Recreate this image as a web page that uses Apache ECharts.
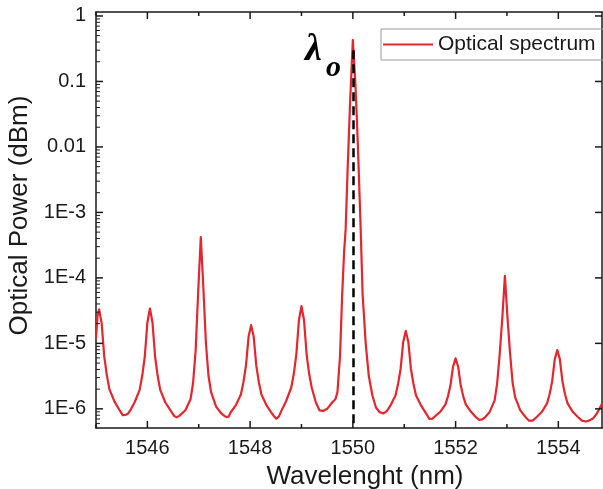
<!DOCTYPE html>
<html><head><meta charset="utf-8">
<script src="https://cdn.jsdelivr.net/npm/echarts@6/dist/echarts.min.js"></script>
<style>html,body{margin:0;padding:0;background:#fff}#c{width:603px;height:489px}</style>
</head><body><div id="c"></div>
<script>
// ---- data ----
const wavelength = [
1545.00,1545.03,1545.06,1545.11,1545.16,1545.21,1545.26,1545.36,1545.46,1545.52,1545.58,1545.62,1545.66,1545.75,1545.85,1545.90,1545.95,
1546.00,1546.05,1546.10,1546.15,1546.20,1546.25,1546.35,1546.45,1546.52,1546.57,1546.62,1546.68,1546.74,1546.84,1546.89,1546.94,1546.99,
1547.04,1547.09,1547.14,1547.19,1547.24,1547.34,1547.44,1547.50,1547.54,1547.58,1547.62,1547.72,1547.82,1547.87,1547.92,1547.97,
1548.02,1548.07,1548.12,1548.17,1548.22,1548.32,1548.42,1548.47,1548.51,1548.56,1548.61,1548.70,1548.80,1548.85,1548.90,1548.95,
1549.00,1549.05,1549.10,1549.15,1549.20,1549.28,1549.35,1549.42,1549.50,1549.60,1549.66,1549.70,1549.75,1549.79,1549.83,1549.86,1549.90,1549.95,
1550.00,1550.05,1550.08,1550.11,1550.15,1550.19,1550.25,1550.31,1550.38,1550.45,1550.52,1550.60,1550.66,1550.73,1550.83,1550.88,1550.93,1550.98,
1551.03,1551.08,1551.13,1551.18,1551.23,1551.33,1551.43,1551.49,1551.55,1551.60,1551.70,1551.80,1551.85,1551.90,1551.95,
1552.00,1552.05,1552.10,1552.15,1552.20,1552.30,1552.40,1552.46,1552.52,1552.57,1552.66,1552.76,1552.81,1552.86,1552.91,1552.96,
1553.01,1553.06,1553.11,1553.16,1553.26,1553.36,1553.43,1553.50,1553.58,1553.68,1553.78,1553.83,1553.88,1553.93,1553.98,
1554.03,1554.08,1554.13,1554.18,1554.28,1554.38,1554.46,1554.53,1554.60,1554.68,1554.75,1554.80,1554.85
];
const power = [
1.2e-5,2.6e-5,3.3e-5,2.04e-5,6.4e-6,3.3e-6,2.0e-6,1.29e-6,9.5e-7,8.0e-7,8.1e-7,8.4e-7,9.3e-7,1.25e-6,1.95e-6,3.2e-6,6.3e-6,
2.07e-5,3.4e-5,2.07e-5,6.3e-6,3.2e-6,1.95e-6,1.25e-6,9.5e-7,7.8e-7,7.4e-7,7.8e-7,8.6e-7,9.5e-7,1.4e-6,2.5e-6,7.9e-6,6.3e-5,
4.2e-4,7.0e-5,1.0e-5,3.2e-6,1.8e-6,1.07e-6,8.5e-7,7.8e-7,7.5e-7,7.6e-7,8.8e-7,1.13e-6,1.66e-6,2.55e-6,4.6e-6,1.26e-5,
1.9e-5,1.26e-5,4.6e-6,2.55e-6,1.66e-6,1.13e-6,8.6e-7,7.6e-7,7.1e-7,7.6e-7,9.4e-7,1.31e-6,2.1e-6,3.4e-6,6.8e-6,2.25e-5,
3.7e-5,2.25e-5,6.8e-6,3.4e-6,2.1e-6,1.25e-6,9.5e-7,9.3e-7,1.0e-6,1.26e-6,1.4e-6,1.8e-6,6.3e-6,5.0e-5,2.5e-4,5.6e-4,5.0e-3,5.6e-2,
0.43,8.9e-2,2.5e-2,5.6e-3,6.3e-4,5.6e-5,1.0e-5,3.2e-6,1.6e-6,1.05e-6,8.9e-7,8.5e-7,9.2e-7,1.12e-6,1.6e-6,2.4e-6,4.1e-6,1.05e-5,
1.55e-5,1.05e-5,4.1e-6,2.4e-6,1.6e-6,1.12e-6,8.4e-7,7.0e-7,7.1e-7,7.7e-7,9.0e-7,1.16e-6,1.54e-6,2.27e-6,4.4e-6,
5.9e-6,4.4e-6,2.27e-6,1.54e-6,1.16e-6,9.0e-7,7.4e-7,6.8e-7,6.9e-7,7.4e-7,8.9e-7,1.35e-6,2.5e-6,7.1e-6,2.5e-5,1.07e-4,
2.5e-5,7.1e-6,2.5e-6,1.5e-6,9.5e-7,7.5e-7,6.6e-7,6.6e-7,7.5e-7,9.0e-7,1.21e-6,1.67e-6,2.63e-6,5.7e-6,7.9e-6,
5.7e-6,2.63e-6,1.67e-6,1.21e-6,9.0e-7,7.5e-7,6.6e-7,6.4e-7,6.6e-7,7.2e-7,8.5e-7,1.0e-6,1.2e-6
];
const seriesName = 'Optical spectrum';
const xTitle = 'Wavelenght (nm)';
const yTitle = 'Optical Power (dBm)';
const xMin = 1545, xMax = 1554.85;
const yMin = 5.1e-7, yMax = 1.15;
const xTickValues = [1545, 1546, 1547, 1548, 1549, 1550, 1551, 1552, 1553, 1554];
const xLabelValues = [1546, 1548, 1550, 1552, 1554];
const yMajorTicks = [1e-6, 1e-5, 1e-4, 1e-3, 0.01, 0.1, 1];
const yDecadeLabels = ['1E-6', '1E-5', '1E-4', '1E-3', '0.01', '0.1', '1'];
const yMinorMantissas = [2, 3, 4, 5, 6, 7, 8, 9];
const centerWavelength = 1550;
const centerMarkerTop = 0.3;
const centerLabel = 'λ';
const centerLabelSub = 'o';

// log-spaced minor tick values (2..9 x 10^n) inside the axis range
const yMinorTicks = [];
for (let e = -7; e <= 0; e++) {
  for (const m of yMinorMantissas) {
    const v = m * Math.pow(10, e);
    if (v >= yMin && v <= yMax) yMinorTicks.push(v);
  }
}

const FONT = 'Liberation Sans';
const INK = '#1a1a1a';
const RED = '#e4262e';

const baseY = { type: 'log', logBase: 10, min: yMin, max: yMax, splitLine: { show: false } };
const baseX = { type: 'value', min: xMin, max: xMax, interval: 1, splitLine: { show: false } };

function tickLine(x1, y1, x2, y2, w) {
  return { type: 'line', shape: { x1, y1, x2, y2 }, style: { stroke: INK, lineWidth: w } };
}

const chart = echarts.init(document.getElementById('c'), null, { renderer: 'canvas' });
chart.setOption({
  backgroundColor: '#fff',
  animation: false,
  grid: { left: 96, right: 1, top: 12, bottom: 61, containLabel: false, outerBoundsMode: 'none' },
  legend: {
    left: 381, top: 29,
    padding: [5, 12, 5, 2],
    itemWidth: 50, itemHeight: 2,
    borderColor: '#9a9a9a', borderWidth: 1,
    textStyle: { fontSize: 21, color: INK, fontFamily: FONT },
    data: [{ name: seriesName, icon: 'rect' }]
  },
  xAxis: [
    Object.assign({}, baseX, {
      position: 'bottom',
      axisLine: { show: true, lineStyle: { color: INK, width: 1.5 } },
      axisTick: { show: false },
      axisLabel: { show: true, customValues: xLabelValues, formatter: v => String(v), fontSize: 20, color: INK, fontFamily: FONT, margin: 10 },
      name: xTitle, nameLocation: 'middle', nameGap: 36,
      nameTextStyle: { fontSize: 26, color: INK, fontFamily: FONT, padding: [0, 0, 0, 32] }
    }),
    Object.assign({}, baseX, {
      position: 'top',
      axisLine: { show: true, lineStyle: { color: INK, width: 1.5 } },
      axisTick: { show: false },
      axisLabel: { show: false }
    })
  ],
  yAxis: [
    Object.assign({}, baseY, {
      position: 'left',
      axisLine: { show: true, lineStyle: { color: INK, width: 1.5 } },
      axisTick: { show: false },
      axisLabel: {
        show: true, fontSize: 20, color: INK, fontFamily: FONT, margin: 10,
        formatter: v => {
          const i = yMajorTicks.findIndex(t => Math.abs(Math.log10(v) - Math.log10(t)) < 1e-6);
          return i >= 0 ? yDecadeLabels[i] : '';
        }
      },
      name: yTitle, nameLocation: 'middle', nameGap: 62, nameRotate: 90,
      nameTextStyle: { fontSize: 26, color: INK, fontFamily: FONT, padding: [0, 0, 0, 9] }
    }),
    Object.assign({}, baseY, {
      position: 'right',
      axisLine: { show: true, lineStyle: { color: INK, width: 1.5 } },
      axisTick: { show: false },
      axisLabel: { show: false }
    })
  ],
  graphic: [
    { type: 'text', left: 305, top: 31, z: 10,
      style: { text: centerLabel, fontSize: 38, fontWeight: 'bold', fontStyle: 'italic', fontFamily: 'Liberation Serif', fill: '#000' } },
    { type: 'text', left: 326, top: 53, z: 10,
      style: { text: centerLabelSub, fontSize: 30, fontWeight: 'bold', fontStyle: 'italic', fontFamily: 'Liberation Serif', fill: '#000' } }
  ],
  series: [
    {
      name: seriesName,
      type: 'line',
      xAxisIndex: 0, yAxisIndex: 0,
      data: wavelength.map((w, i) => [w, power[i]]),
      showSymbol: false, symbol: 'none',
      lineStyle: { color: RED, width: 2.2, join: 'round' },
      itemStyle: { color: RED },
      clip: true, z: 2,
      markLine: {
        silent: true, symbol: 'none', label: { show: false },
        lineStyle: { color: '#000', width: 2.5, type: [9, 5] },
        data: [[{ coord: [centerWavelength, centerMarkerTop] }, { coord: [centerWavelength, yMin] }]]
      }
    },
    {
      // x ticks (bottom & top, inside); labelled ones longer
      name: 'xTicks', type: 'custom', xAxisIndex: 0, yAxisIndex: 0, silent: true, z: 5,
      data: xTickValues.map(v => [v, yMax]),
      renderItem: (params, api) => {
        const v = api.value(0);
        const len = xLabelValues.includes(v) ? 7 : 4;
        const b = api.coord([v, yMin]), t = api.coord([v, yMax]);
        return { type: 'group', children: [tickLine(b[0], b[1], b[0], b[1] - len, 1.5), tickLine(t[0], t[1], t[0], t[1] + len, 1.5)] };
      }
    },
    {
      // y major ticks (left & right, inside)
      name: 'yTicks', type: 'custom', xAxisIndex: 0, yAxisIndex: 0, silent: true, z: 5,
      data: yMajorTicks.map(v => [xMin, v]),
      renderItem: (params, api) => {
        const v = api.value(1);
        const l = api.coord([xMin, v]), r = api.coord([xMax, v]);
        return { type: 'group', children: [tickLine(l[0], l[1], l[0] + 7, l[1], 1.5), tickLine(r[0], r[1], r[0] - 7, r[1], 1.5)] };
      }
    },
    {
      // y minor ticks (left, inside)
      name: 'yMinorTicks', type: 'custom', xAxisIndex: 0, yAxisIndex: 0, silent: true, z: 5,
      data: yMinorTicks.map(v => [xMin, v]),
      renderItem: (params, api) => {
        const v = api.value(1);
        const l = api.coord([xMin, v]);
        return tickLine(l[0], l[1], l[0] + 4, l[1], 1);
      }
    }
  ]
});
</script></body></html>
